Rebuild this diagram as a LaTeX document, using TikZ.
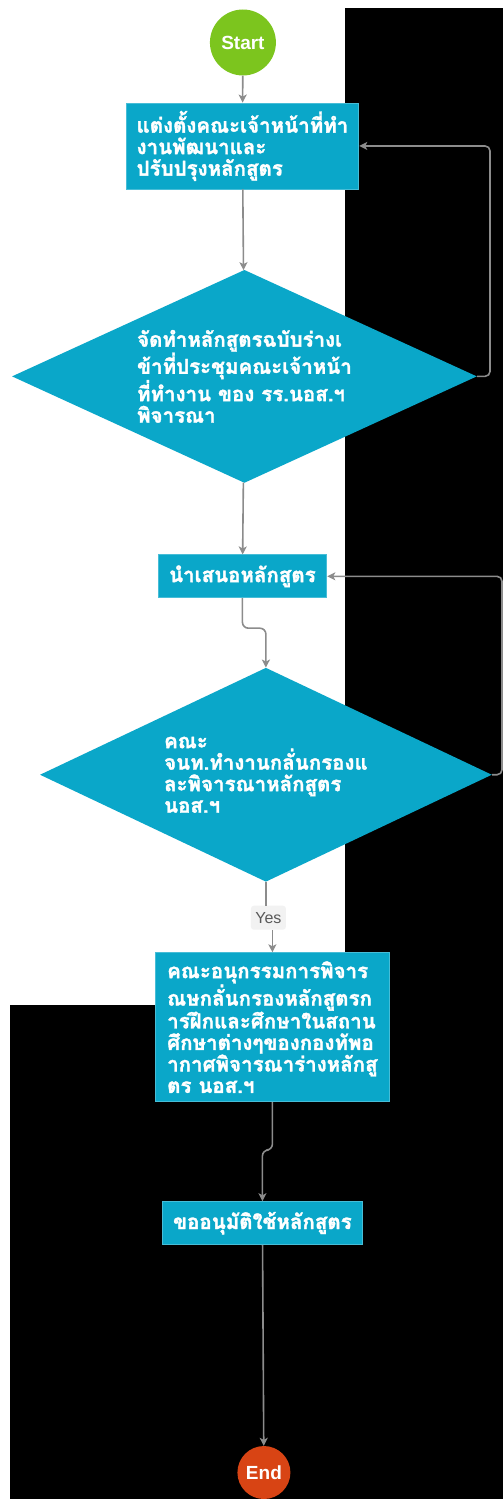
\documentclass[tikz,border=0pt]{standalone}
\usepackage{fontspec}
\setmainfont{Liberation Sans}
\newfontfamily\thaifont[Script=Thai, BoldFeatures={FakeBold=1.6}]{Loma}
\usetikzlibrary{shapes.geometric, arrows.meta}

\definecolor{procblue}{RGB}{10,167,201}
\definecolor{startgreen}{RGB}{124,197,30}
\definecolor{endred}{RGB}{216,68,20}
\definecolor{flowgray}{RGB}{140,140,140}

\tikzset{
    startend/.style={circle, inner sep=0pt, text=white, font=\bfseries\fontsize{19}{21}\selectfont},
    procbox/.style={rectangle, fill=procblue, draw=procblue!75!white, line width=0.8pt, text=white, align=left, inner sep=0pt, font=\thaifont\bfseries\fontsize{20.5}{21.5}\selectfont},
    decision/.style={diamond, fill=procblue, text=white, align=left, inner sep=0pt, font=\thaifont\bfseries\fontsize{20.5}{21.5}\selectfont},
    flow/.style={draw=flowgray, line width=1.6pt, -{Stealth[length=8pt, width=8pt, inset=2pt]}},
    link/.style={draw=flowgray, line width=1.6pt},
    yeslabel/.style={fill=black!5, rounded corners=3pt, text=black!65, inner sep=0pt, minimum width=35pt, minimum height=24pt, font=\fontsize{16}{18}\selectfont}
}

\begin{document}
\begin{tikzpicture}[x=1pt, y=-1pt]
        \fill[white] (0, 0) rectangle (503, 1499);
        \fill[black] (345, 8) rectangle (503, 1005);
        \fill[black] (10, 1005) rectangle (503, 1499);

        \node[startend, fill=startgreen, minimum size=66pt] (start) at (243, 42.5) {Start};
        \node[procbox, minimum width=233pt, minimum height=86pt] (appoint) at (242.5, 146)
            {แต่งตั้งคณะเจ้าหน้าที่ทำ\\งานพัฒนาและ\\ปรับปรุงหลักสูตร};
        \node[decision, aspect=2.18, minimum width=465pt, minimum height=213pt] (draftcheck) at (244.5, 376.5)
            {จัดทำหลักสูตรฉบับร่างเ\\ข้าที่ประชุมคณะเจ้าหน้า\\ที่ทำงาน ของ รร.นอส.ฯ\\พิจารณา};
        \node[procbox, minimum width=169pt, minimum height=43pt] (present) at (242.5, 576.5)
            {นำเสนอหลักสูตร};
        \node[decision, aspect=2.11, minimum width=452pt, minimum height=214pt] (screen) at (266, 775)
            {คณะ\\จนท.ทำงานกลั่นกรองแ\\ละพิจารณาหลักสูตร\\นอส.ฯ};
        \node[yeslabel] (yes) at (268.5, 918) {Yes};
        \node[procbox, minimum width=235pt, minimum height=149pt] (subcommittee) at (272.5, 1027.5)
            {คณะอนุกรรมการพิจาร\\ณษกลั่นกรองหลักสูตรก\\ารฝึกและศึกษาในสถาน\\ศึกษาต่างๆของกองทัพอ\\ากาศพิจารณาร่างหลักสู\\ตร นอส.ฯ};
        \node[procbox, minimum width=201pt, minimum height=43pt] (approve) at (262.5, 1223.5)
            {ขออนุมัติใช้หลักสูตร};
        \node[startend, fill=endred, minimum size=53pt] (end) at (264, 1473) {End};

        \draw[flow] (start) -- (appoint);
        \draw[flow] (appoint) -- (draftcheck);
        \draw[flow, rounded corners=5pt] (draftcheck.east) -- ++(13, 0) |- (appoint.east);
        \draw[flow] (draftcheck) -- (present);
        \draw[flow, rounded corners=6pt] (present.south) -- ++(0, 30) -| (screen.north);
        \draw[flow, rounded corners=5pt] (screen.east) -- ++(10, 0) |- (present.east);
        \draw[link] (screen.south) -- (yes.north -| screen.south);
        \draw[flow] (yes.south -| subcommittee.north) -- (subcommittee.north);
        \draw[flow, rounded corners=6pt] (subcommittee.south) -- ++(0, 48) -| (approve.north);
        \draw[flow] (approve) -- (end);
\end{tikzpicture}
\end{document}
